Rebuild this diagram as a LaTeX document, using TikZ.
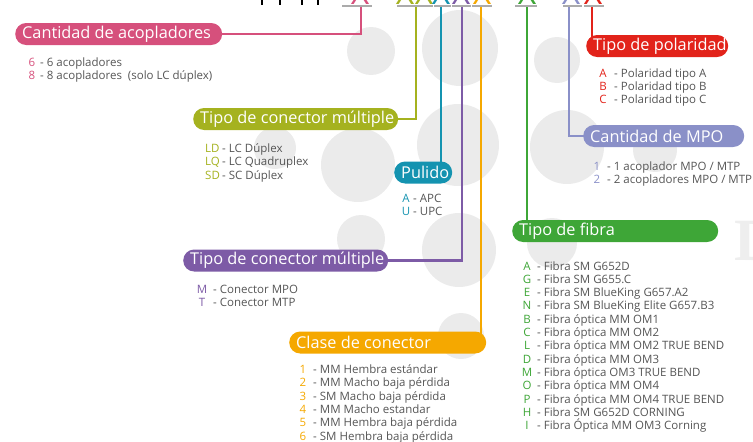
\documentclass[tikz,border=0pt]{standalone}
\usepackage{fontspec}
\setmainfont{Open Sans}
\usetikzlibrary{backgrounds}

\definecolor{cpink}{HTML}{D6507C}
\definecolor{colive}{HTML}{A5B21F}
\definecolor{cteal}{HTML}{1493B0}
\definecolor{cpurple}{HTML}{7D5BA6}
\definecolor{corange}{HTML}{F5A800}
\definecolor{cgreen}{HTML}{3EA637}
\definecolor{clav}{HTML}{8A90C8}
\definecolor{cred}{HTML}{E2231A}
\definecolor{ctext}{HTML}{555555}
\definecolor{cbg}{HTML}{EBEBEB}
\definecolor{cbar}{HTML}{ABABAB}
\definecolor{clogo}{HTML}{EEEEEE}

\begin{document}
\begin{tikzpicture}[x=1pt, y=-1pt,
  pill/.style={rounded corners=11pt, minimum height=22pt, inner xsep=7pt, inner ysep=0pt, anchor=west, text=white, font=\fontsize{16.3}{18}\selectfont},
  link/.style={line width=2.3pt},
  slot/.style={draw=cbar, line width=2.3pt},
  code/.style={anchor=base, inner sep=0pt, font=\fontsize{11.5}{13}\selectfont},
  item/.style={anchor=base west, inner sep=0pt, text=ctext, font=\fontsize{11.5}{13}\selectfont},
  codemark/.style={anchor=base, inner sep=0pt, font=\fontsize{32}{32}\selectfont}]
  \useasboundingbox (0,0) rectangle (753,442);
  \clip (0,0) rectangle (753,442);

  % background dots
  \begin{pgfonlayer}{background}
    \foreach \x/\y/\r in {371/51/24, 460/48/38, 358/165/37, 458/145/41, 275/148/21, 361/239/24,
                          459/250/37, 461/336/23, 557/60/23, 567/147/37, 655/150/22, 552/243/25}
      \fill[cbg] (\x,\y) circle[radius=\r];
  \end{pgfonlayer}
  \node[anchor=base west, inner sep=0pt, text=clogo, font=\fontspec{Liberation Serif}\bfseries\fontsize{60}{60}\selectfont] (logo) at (734,260) {D};

  % code letters on top
  \foreach \x in {262,280,302,318}
    \draw[line width=1.2pt] (\x,0) -- (\x,4.5);
  \foreach \x/\col in {360/cpink, 405/colive, 424/colive, 441/cteal, 461/cpurple, 482/corange, 527/cgreen, 571/clav, 593/cred}
    \node[codemark, text=\col] (x-\x) at (\x,4) {X};
  \foreach \a/\b in {342/372, 397/433, 434/451, 452/471, 472/492, 515/537, 563/582, 584/604}
    \draw[slot] (\a,6.2) -- (\b,6.2);

  % labels
  \node[pill, fill=cpink] (acop) at (15,34) {\makebox[193pt][l]{Cantidad de acopladores}};
  \node[pill, fill=colive] (cmult) at (193,119) {\makebox[191pt][l]{Tipo de conector múltiple}};
  \node[pill, fill=cteal] (pul) at (394,172.5) {\makebox[44pt][l]{Pulido}};
  \node[pill, fill=cpurple] (cmpo) at (183,260.5) {\makebox[191pt][l]{Tipo de conector múltiple}};
  \node[pill, fill=corange] (clase) at (289,342.5) {\makebox[183pt][l]{Clase de conector}};
  \node[pill, fill=cgreen] (fibra) at (512,231) {\makebox[192pt][l]{Tipo de fibra}};
  \node[pill, fill=clav] (nmpo) at (583,136) {\makebox[147pt][l]{Cantidad de MPO}};
  \node[pill, fill=cred] (polar) at (586,46) {\makebox[128pt][l]{Tipo de polaridad}};

  % connectors
  \coordinate (acop-in) at (361,6.2);
  \coordinate (cmult-in) at (416,6.2);
  \coordinate (pul-in) at (441,6.2);
  \coordinate (cmpo-in) at (462,6.2);
  \coordinate (clase-in) at (481,6.2);
  \coordinate (fibra-in) at (527,6.2);
  \coordinate (nmpo-in) at (569,6.2);
  \coordinate (polar-in) at (592,6.2);
  \begin{pgfonlayer}{background}
    \draw[link, cpink] (acop-in) |- (acop.center);
    \draw[link, colive] (cmult-in) |- (cmult.center);
    \draw[link, cteal] (pul-in) -- (pul-in |- pul.center);
    \draw[link, cpurple] (cmpo-in) |- (cmpo.center);
    \draw[link, corange] (clase-in) -- (clase-in |- clase.center);
    \draw[link, cgreen] (fibra-in) -- (fibra-in |- fibra.center);
    \draw[link, clav] (nmpo-in) |- (nmpo.center);
    \draw[link, cred] (polar-in) -- (polar-in |- polar.center);
  \end{pgfonlayer}

  % option lists
  \foreach \c/\t [count=\i from 0] in {6/6 acopladores, 8/{8 acopladores\ \ (solo LC dúplex)}} {
    \node[code, text=cpink] (acop-c\i) at (32,66.5+13.4*\i) {\c};
    \node[item] (acop-t\i) at (40,66.5+13.4*\i) {- \t};
  }
  \foreach \c/\t [count=\i from 0] in {LD/LC Dúplex, LQ/LC Quadruplex, SD/SC Dúplex} {
    \node[code, anchor=base west, text=colive] (cmult-c\i) at (205,152+13.5*\i) {\c};
    \node[item] (cmult-t\i) at (222,152+13.5*\i) {- \t};
  }
  \foreach \c/\t [count=\i from 0] in {A/APC, U/UPC} {
    \node[code, text=cteal] (pul-c\i) at (406,202+13.4*\i) {\c};
    \node[item] (pul-t\i) at (413,202+13.4*\i) {- \t};
  }
  \foreach \c/\t [count=\i from 0] in {M/Conector MPO, T/Conector MTP} {
    \node[code, text=cpurple] (cmpo-c\i) at (202,293.3+13.4*\i) {\c};
    \node[item] (cmpo-t\i) at (213,293.3+13.4*\i) {- \t};
  }
  \foreach \c/\t [count=\i from 0] in {1/MM Hembra estándar, 2/MM Macho baja pérdida, 3/SM Macho baja pérdida,
                                       4/MM Macho estandar, 5/MM Hembra baja pérdida, 6/SM Hembra baja pérdida} {
    \node[code, text=corange] (clase-c\i) at (303,373.5+13.35*\i) {\c};
    \node[item] (clase-t\i) at (313,373.5+13.35*\i) {- \t};
  }
  \foreach \c/\t [count=\i from 0] in {A/Fibra SM G652D, G/Fibra SM G655.C, E/Fibra SM BlueKing G657.A2,
                                       N/Fibra SM BlueKing Elite G657.B3, B/Fibra óptica MM OM1, C/Fibra óptica MM OM2,
                                       L/Fibra óptica MM OM2 TRUE BEND, D/Fibra óptica MM OM3, M/Fibra óptica OM3 TRUE BEND,
                                       O/Fibra óptica MM OM4, P/Fibra óptica MM OM4 TRUE BEND, H/Fibra SM G652D CORNING,
                                       I/Fibra Óptica MM OM3 Corning} {
    \node[code, text=cgreen] (fibra-c\i) at (527,270+13.33*\i) {\c};
    \node[item] (fibra-t\i) at (537,270+13.33*\i) {- \t};
  }
  \foreach \c/\t [count=\i from 0] in {1/{1 acoplador MPO / MTP}, 2/{2 acopladores MPO / MTP}} {
    \node[code, text=clav] (nmpo-c\i) at (597,170+13.4*\i) {\c};
    \node[item] (nmpo-t\i) at (607,170+13.4*\i) {- \t};
  }
  \foreach \c/\t [count=\i from 0] in {A/Polaridad tipo A, B/Polaridad tipo B, C/Polaridad tipo C} {
    \node[code, text=cred] (polar-c\i) at (603,77+13.2*\i) {\c};
    \node[item] (polar-t\i) at (614,77+13.2*\i) {- \t};
  }
\end{tikzpicture}
\end{document}
